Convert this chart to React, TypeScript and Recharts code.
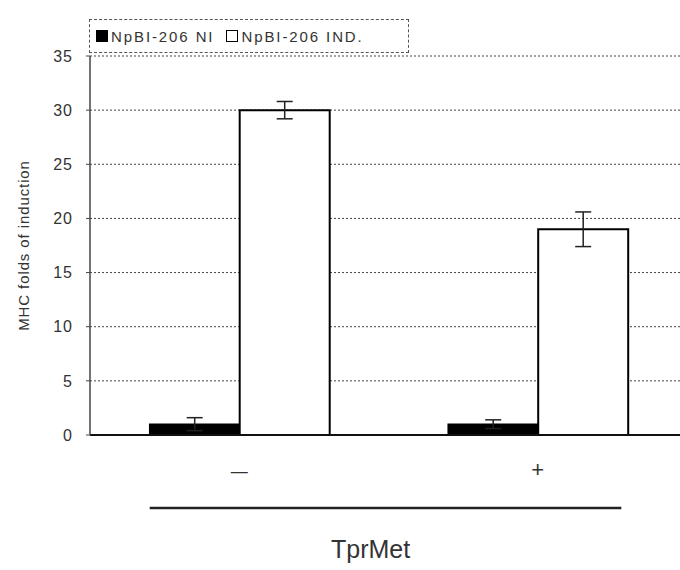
import { BarChart, Bar, XAxis, YAxis, CartesianGrid, Legend, ErrorBar, Label } from 'recharts'

const categories = ['—', '+']
const niValues = [1, 1]
const niErrors = [0.6, 0.4]
const indValues = [30, 19]
const indErrors = [0.8, 1.6]
const yTicks = [0, 5, 10, 15, 20, 25, 30, 35]
const seriesNames = ['NpBI-206 NI', 'NpBI-206 IND.']
const seriesFills = ['#000', '#fff']

const data = categories.map((c, i) => ({
  name: c,
  ni: niValues[i],
  niErr: niErrors[i],
  ind: indValues[i],
  indErr: indErrors[i],
}))

const font = '"Liberation Sans", Arial, sans-serif'

function GroupLabel(props: any) {
  const vb = props.viewBox
  if (!vb) return null
  const left = vb.x + vb.width * 0.1
  const right = vb.x + vb.width * 0.89
  const mid = vb.x + vb.width * 0.47
  return (
    <g>
      <line x1={left} x2={right} y1={vb.y + 73} y2={vb.y + 73} stroke="#222" strokeWidth={2.5} />
      <text x={mid} y={vb.y + 123} textAnchor="middle" fontSize={25} fill="#333" fontFamily={font}>
        TprMet
      </text>
    </g>
  )
}

function XTick(props: any) {
  const { x, y, payload } = props
  const isDash = payload.value === '—'
  return (
    <text
      x={x}
      y={y + 34}
      textAnchor="middle"
      fontSize={isDash ? 17 : 22}
      fill="#333"
      fontFamily={font}
    >
      {payload.value}
    </text>
  )
}

function LegendBox() {
  return (
    <div
      style={{
        display: 'flex',
        alignItems: 'center',
        height: 34,
        width: 320,
        boxSizing: 'border-box',
        border: '1px dashed #555',
        background: '#fff',
        fontFamily: font,
        fontSize: 15,
        letterSpacing: 1.9,
        color: '#333',
        paddingLeft: 6,
        whiteSpace: 'nowrap',
      }}
    >
      {seriesNames.map((n, i) => (
        <span key={n} style={{ display: 'flex', alignItems: 'center', marginRight: 12 }}>
          <span
            style={{
              display: 'inline-block',
              width: 12,
              height: 12,
              background: seriesFills[i],
              border: '1.5px solid #000',
              boxSizing: 'border-box',
              marginRight: 3,
            }}
          />
          {n}
        </span>
      ))}
    </div>
  )
}

export default function App() {
  return (
    <div style={{ position: 'absolute', left: 0, top: 0, background: '#fff' }}>
      <BarChart
        width={680}
        height={570}
        data={data}
        margin={{ top: 22, right: -7, left: 0, bottom: 0 }}
        barCategoryGap="20%"
        barGap={0}
      >
        <CartesianGrid vertical={false} stroke="#444" strokeDasharray="2 2" />
        <XAxis
          dataKey="name"
          height={135}
          axisLine={{ stroke: '#111', strokeWidth: 2 }}
          tickLine={false}
          tick={<XTick />}
          label={<Label content={GroupLabel} />}
        />
        <YAxis
          width={90}
          domain={[0, 35]}
          ticks={yTicks}
          interval={0}
          axisLine={{ stroke: '#444', strokeWidth: 1.5 }}
          tickLine={{ stroke: '#444' }}
          tickSize={4}
          tickMargin={13}
          tick={{ fontSize: 16, fill: '#333', fontFamily: font, letterSpacing: 1 }}
        >
          <Label
            value="MHC folds of induction"
            angle={-90}
            position="insideLeft"
            offset={24}
            style={{ fontSize: 15, fill: '#333', fontFamily: font, textAnchor: 'middle', letterSpacing: 0.9 }}
          />
        </YAxis>
        <Legend
          verticalAlign="top"
          align="left"
          content={<LegendBox />}
          wrapperStyle={{ top: 19, left: 89, width: 320 }}
        />
        <Bar dataKey="ni" name={seriesNames[0]} fill="#000" stroke="#000" strokeWidth={1.5} isAnimationActive={false}>
          <ErrorBar dataKey="niErr" width={8} stroke="#222" strokeWidth={1.5} />
        </Bar>
        <Bar dataKey="ind" name={seriesNames[1]} fill="#fff" stroke="#000" strokeWidth={2} isAnimationActive={false}>
          <ErrorBar dataKey="indErr" width={8} stroke="#222" strokeWidth={1.5} />
        </Bar>
      </BarChart>
    </div>
  )
}
